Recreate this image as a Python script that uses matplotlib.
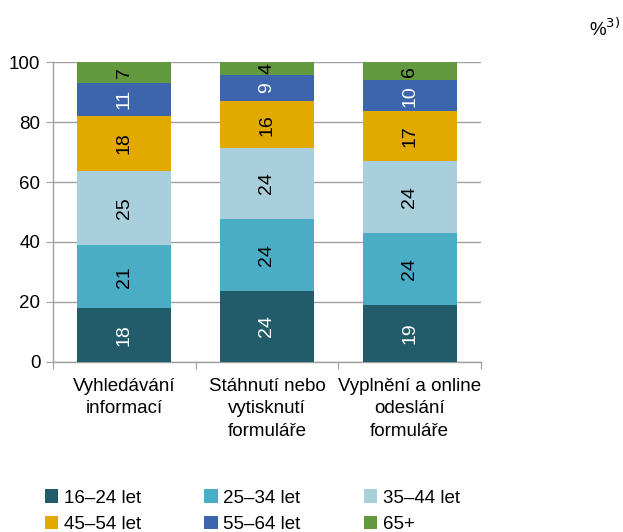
import numpy as np
import matplotlib
matplotlib.use("Agg")
import matplotlib.pyplot as plt

plt.rcParams['font.family'] = ['Liberation Sans', 'DejaVu Sans']

# Data
categories = ['Vyhledávání\ninformací',
              'Stáhnutí nebo\nvytisknutí\nformuláře',
              'Vyplnění a online\nodeslání\nformuláře']
groups = ['16–24 let', '25–34 let', '35–44 let', '45–54 let', '55–64 let', '65+']
values = [
    [17.8, 23.7, 19.0],   # 16-24
    [21.2, 24.0, 24.0],   # 25-34
    [24.8, 23.6, 24.0],   # 35-44
    [18.3, 15.7, 16.7],   # 45-54
    [11.1, 8.8, 10.3],    # 55-64
    [6.8, 4.2, 6.0],      # 65+
]
labels = [
    [18, 24, 19],
    [21, 24, 24],
    [25, 24, 24],
    [18, 16, 17],
    [11, 9, 10],
    [7, 4, 6],
]
colors = ['#225B69', '#4BACC6', '#A9CFDC', '#E2A900', '#3D65AE', '#62993F']
text_colors = ['white', 'black', 'black', 'black', 'white', 'black']

fig = plt.figure(figsize=(6.23, 5.32), dpi=100)
ax = fig.add_axes([0.085, 0.32, 0.687, 0.563])

x = np.arange(len(categories))
bottom = np.zeros(len(categories))
handles = []
for i, g in enumerate(groups):
    vals = np.array(values[i])
    bars = ax.bar(x, vals, width=0.66, bottom=bottom, color=colors[i],
                  label=g, zorder=3, edgecolor='none')
    handles.append(bars)
    for j, b in enumerate(bars):
        ax.text(b.get_x() + b.get_width() / 2, bottom[j] + vals[j] / 2,
                str(labels[i][j]), rotation=90, ha='center', va='center',
                fontsize=14, color=text_colors[i], zorder=4)
    bottom += vals

ax.set_xlim(-0.5, 2.5)
ax.set_ylim(0, 100)
ax.set_yticks(np.arange(0, 101, 20))
ax.tick_params(axis='y', labelsize=13.5, length=5, color='#A0A0A0', pad=4)
ax.grid(axis='y', color='#A0A0A0', linewidth=1, zorder=0)

# category boundary ticks on x axis
ax.set_xticks([-0.5, 0.5, 1.5, 2.5])
ax.set_xticklabels([])
ax.tick_params(axis='x', length=5, color='#A0A0A0')
for xi, cat in zip(x, categories):
    ax.text(xi, -5.5, cat, ha='center', va='top', fontsize=13.5,
            linespacing=1.4)

for s in ['top', 'right']:
    ax.spines[s].set_visible(False)
for s in ['left', 'bottom']:
    ax.spines[s].set_color('#A0A0A0')
    ax.spines[s].set_linewidth(1)

fig.text(0.945, 0.945, '%$^{3)}$', fontsize=13.5, ha='left', va='center')

# legend filled row by row (matplotlib fills columns first)
order = [0, 3, 1, 4, 2, 5]
fig.legend([handles[k] for k in order], [groups[k] for k in order],
           loc='upper left', bbox_to_anchor=(0.072, 0.08), ncol=3,
           frameon=False, fontsize=13.5, handlelength=0.7, handleheight=0.7,
           handletextpad=0.3, columnspacing=3.4, labelspacing=0.5,
           borderaxespad=0, borderpad=0)

fig.savefig('out.png', dpi=100)
